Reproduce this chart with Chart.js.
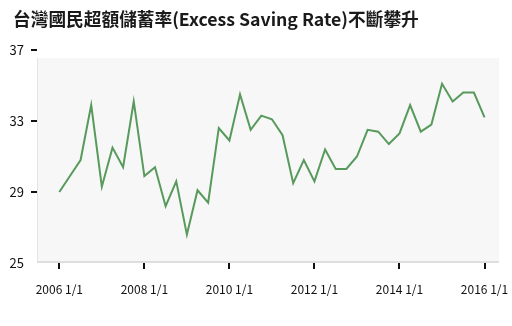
<!DOCTYPE html>
<html>
<head>
<meta charset="utf-8">
<script src="https://cdn.jsdelivr.net/npm/chart.js@4.4.1/dist/chart.umd.min.js"></script>
<style>
html,body{margin:0;padding:0;background:#fff;}
</style>
</head>
<body>
<canvas id="c" width="512" height="326"></canvas>
<script>
const titleText = '台灣國民超額儲蓄率(Excess Saving Rate)不斷攀升';
// quarterly observations, 2006 Q1 .. 2016 Q1
const savingRate = [29.0, 29.9, 30.8, 33.9, 29.3, 31.5, 30.4, 34.1,
                    29.9, 30.4, 28.2, 29.6, 26.6, 29.1, 28.4, 32.6,
                    31.9, 34.5, 32.5, 33.3, 33.1, 32.2, 29.5, 30.8,
                    29.6, 31.4, 30.3, 30.3, 31.0, 32.5, 32.4, 31.7,
                    32.3, 33.9, 32.4, 32.8, 35.1, 34.1, 34.6, 34.6, 33.2];
const xTickLabels = ['2006 1/1', '2008 1/1', '2010 1/1', '2012 1/1', '2014 1/1', '2016 1/1'];
const xTickIndex = [0, 8, 16, 24, 32, 40];
const yTicks = [25, 29, 33, 37];

const fontFam = '"Noto Sans CJK TC", "Noto Sans", sans-serif';

const bgPlugin = {
  id: 'bgPlugin',
  afterLayout(chart) {
    if (chart.titleBlock) chart.titleBlock.left = 13;
  },
  beforeDraw(chart) {
    const {ctx, chartArea: a} = chart;
    const top = a.top + 8;
    ctx.save();
    ctx.fillStyle = '#f7f7f7';
    ctx.fillRect(a.left, top, a.right - a.left, a.bottom - top);
    ctx.fillStyle = '#e4e4e4';
    ctx.fillRect(a.left, top, 1, a.bottom - top);
    ctx.fillStyle = '#dedede';
    ctx.fillRect(a.left, a.bottom - 2, a.right - a.left, 2);
    ctx.restore();
  }
};

new Chart(document.getElementById('c'), {
  type: 'line',
  data: {
    datasets: [{
      data: savingRate.map((v, i) => ({x: i, y: v})),
      borderColor: '#589a5c',
      borderWidth: 2,
      pointRadius: 0,
      tension: 0,
      fill: false
    }]
  },
  options: {
    responsive: false,
    animation: false,
    layout: {padding: {left: 9, right: 13, top: 0, bottom: 16.6}},
    plugins: {
      legend: {display: false},
      tooltip: {enabled: false},
      title: {
        display: true,
        text: titleText,
        align: 'start',
        color: '#1a1a1a',
        font: {family: fontFam, size: 17.7, weight: 'bold', lineHeight: 1.2},
        padding: {top: 9, bottom: 19.76}
      }
    },
    scales: {
      x: {
        type: 'linear',
        min: -2.1,
        max: 41.36,
        afterBuildTicks(scale) { scale.ticks = xTickIndex.map(v => ({value: v})); },
        afterFit(scale) { scale.paddingLeft = 0; scale.paddingRight = 0; },
        ticks: {
          autoSkip: false, maxRotation: 0, padding: 13, color: '#111',
          font: {family: fontFam, size: 12},
          callback(value) { const k = xTickIndex.indexOf(value); return k >= 0 ? xTickLabels[k] : ''; }
        },
        grid: {drawOnChartArea: false, drawTicks: true, tickLength: 6, color: '#111', lineWidth: 2},
        border: {display: false}
      },
      y: {
        min: 25, max: 37,
        afterBuildTicks(scale) { scale.ticks = yTicks.map(v => ({value: v})); },
        afterFit(scale) { scale.width = 28; },
        ticks: {padding: 7, color: '#111', font: {family: fontFam, size: 13}},
        grid: {
          drawOnChartArea: false, drawTicks: true, tickLength: 6, lineWidth: 2,
          color: ctx => (ctx.tick && ctx.tick.value === 25) ? 'rgba(0,0,0,0)' : '#111'
        },
        border: {display: false}
      }
    }
  },
  plugins: [bgPlugin]
});
</script>
</body>
</html>
